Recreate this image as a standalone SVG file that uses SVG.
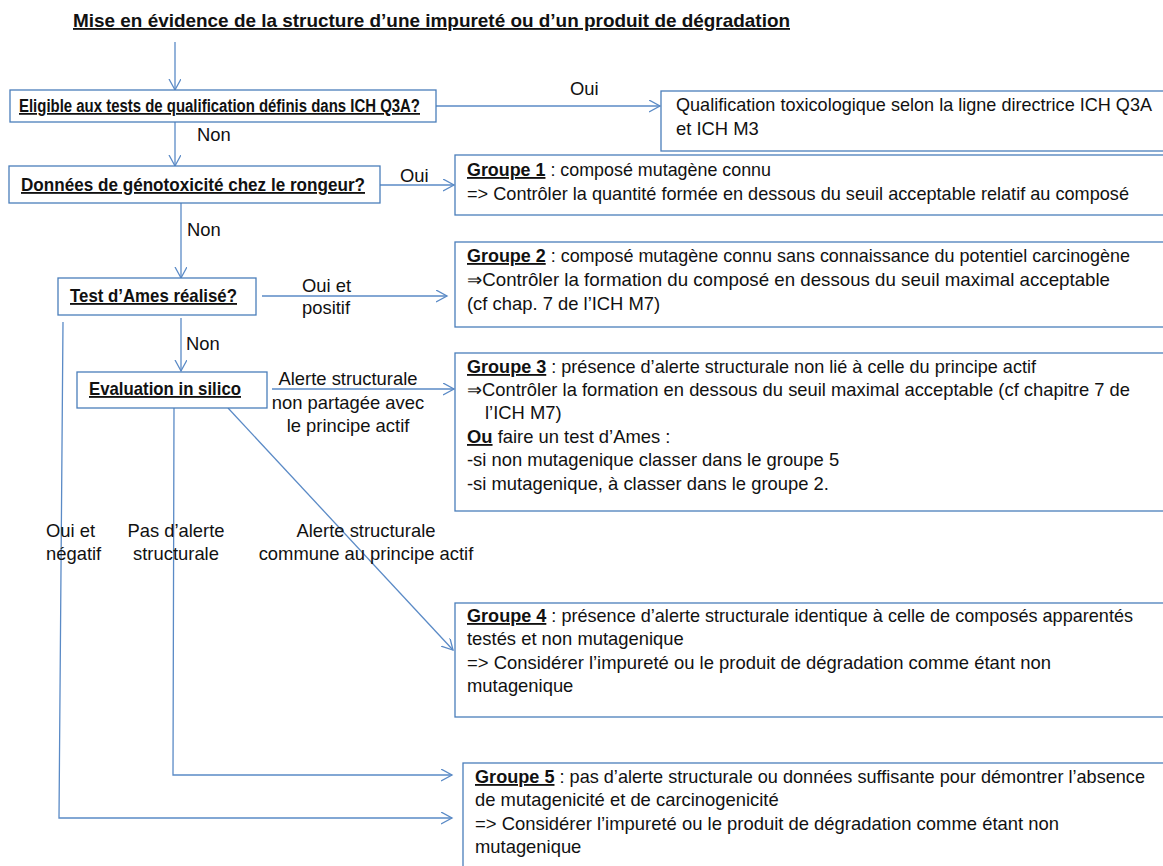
<svg xmlns="http://www.w3.org/2000/svg" width="1163" height="866" viewBox="0 0 1163 866">
<defs>
<style>
text{font-family:"Liberation Sans",Arial,sans-serif;font-size:18.4px;fill:#111}
.b{font-weight:bold}
.u{text-decoration:underline}
.box{fill:#fff;stroke:#4A7EBB;stroke-width:1.3}
.ln{fill:none;stroke:#5A8AC6;stroke-width:1.3}
</style>
<marker id="ah" markerUnits="userSpaceOnUse" markerWidth="14" markerHeight="14" refX="11" refY="6" orient="auto">
<path d="M0,0 L11,6 L0,12" fill="none" stroke="#5A8AC6" stroke-width="1.3"/>
</marker>
</defs>
<rect width="1163" height="866" fill="#fff"/>

<g id="title">
<text x="73" y="27" class="b u" textLength="717" lengthAdjust="spacingAndGlyphs">Mise en évidence de la structure d’une impureté ou d’un produit de dégradation</text>
</g>

<g id="connectors">
<line class="ln" x1="175" y1="42" x2="175" y2="90" marker-end="url(#ah)"/>
<line class="ln" x1="436" y1="106" x2="660" y2="106" marker-end="url(#ah)"/>
<line class="ln" x1="175" y1="122" x2="175" y2="166" marker-end="url(#ah)"/>
<line class="ln" x1="380" y1="185" x2="454" y2="185" marker-end="url(#ah)"/>
<line class="ln" x1="181" y1="203" x2="181" y2="278" marker-end="url(#ah)"/>
<line class="ln" x1="262" y1="296" x2="447" y2="296" marker-end="url(#ah)"/>
<line class="ln" x1="181" y1="318" x2="181" y2="371" marker-end="url(#ah)"/>
<line class="ln" x1="272" y1="389" x2="454" y2="389" marker-end="url(#ah)"/>
<line class="ln" x1="228" y1="408" x2="453" y2="650" marker-end="url(#ah)"/>
<polyline class="ln" points="174,408 173,775 452,775" marker-end="url(#ah)"/>
<polyline class="ln" points="63,322 59,818 452,818" marker-end="url(#ah)"/>
<text x="570" y="95">Oui</text>
<text x="197" y="141">Non</text>
<text x="400" y="182">Oui</text>
<text x="187" y="236">Non</text>
<text x="302" y="292">Oui et</text>
<text x="302" y="314">positif</text>
<text x="186" y="350">Non</text>
<text x="348" y="385" text-anchor="middle">Alerte structurale</text>
<text x="348" y="409" text-anchor="middle">non partagée avec</text>
<text x="348" y="432" text-anchor="middle">le principe actif</text>
<text x="46" y="537">Oui et</text>
<text x="46" y="560">négatif</text>
<text x="176" y="537" text-anchor="middle">Pas d’alerte</text>
<text x="176" y="560" text-anchor="middle">structurale</text>
<text x="366" y="537" text-anchor="middle">Alerte structurale</text>
<text x="366" y="560" text-anchor="middle">commune au principe actif</text>
</g>

<g id="n-eligible">
<rect class="box" x="10" y="90" width="426" height="32"/>
<text x="19" y="112" class="b u" style="font-size:17.6px" textLength="401" lengthAdjust="spacingAndGlyphs">Eligible aux tests de qualification  définis dans  ICH Q3A?</text>
</g>

<g id="n-qualif">
<rect class="box" x="661" y="91" width="520" height="60"/>
<text x="676" y="111" textLength="476" lengthAdjust="spacingAndGlyphs">Qualification toxicologique selon la ligne directrice ICH Q3A</text>
<text x="676" y="135">et ICH M3</text>
</g>

<g id="n-donnees">
<rect class="box" x="9" y="166" width="371" height="37"/>
<text x="21" y="191" class="b u" textLength="344" lengthAdjust="spacingAndGlyphs">Données de génotoxicité chez le rongeur?</text>
</g>

<g id="n-groupe1">
<rect class="box" x="455" y="155" width="726" height="60"/>
<text x="467" y="176" textLength="304" lengthAdjust="spacingAndGlyphs"><tspan class="b u">Groupe 1</tspan> : composé mutagène connu</text>
<text x="467" y="200" textLength="662" lengthAdjust="spacingAndGlyphs">=&gt; Contrôler la quantité formée en dessous du seuil acceptable relatif au composé</text>
</g>

<g id="n-ames">
<rect class="box" x="58" y="278" width="198" height="37"/>
<text x="70" y="302" class="b u" textLength="167" lengthAdjust="spacingAndGlyphs">Test d’Ames réalisé?</text>
</g>

<g id="n-groupe2">
<rect class="box" x="455" y="242" width="726" height="85"/>
<text x="467" y="262" textLength="663" lengthAdjust="spacingAndGlyphs"><tspan class="b u">Groupe 2</tspan> : composé mutagène connu sans connaissance du potentiel carcinogène</text>
<text x="467" y="286" textLength="643" lengthAdjust="spacingAndGlyphs">⇒Contrôler la formation du composé en dessous du seuil maximal acceptable</text>
<text x="467" y="310">(cf chap. 7 de l’ICH M7)</text>
</g>

<g id="n-eval">
<rect class="box" x="77" y="372" width="190" height="36"/>
<text x="89" y="395" class="b u" textLength="152" lengthAdjust="spacingAndGlyphs">Evaluation in silico</text>
</g>

<g id="n-groupe3">
<rect class="box" x="455" y="353" width="726" height="158"/>
<text x="467" y="373" textLength="569" lengthAdjust="spacingAndGlyphs"><tspan class="b u">Groupe 3</tspan> : présence d’alerte structurale non lié à celle du principe actif</text>
<text x="467" y="396" textLength="663" lengthAdjust="spacingAndGlyphs">⇒Contrôler la formation en dessous du seuil maximal acceptable (cf chapitre 7 de</text>
<text x="485" y="419">l’ICH M7)</text>
<text x="467" y="443"><tspan class="b u">Ou</tspan> faire un test d’Ames :</text>
<text x="467" y="466">-si non mutagenique classer dans le groupe 5</text>
<text x="467" y="490">-si mutagenique, à classer dans le groupe 2.</text>
</g>

<g id="n-groupe4">
<rect class="box" x="455" y="603" width="726" height="114"/>
<text x="467" y="622" textLength="666" lengthAdjust="spacingAndGlyphs"><tspan class="b u">Groupe 4</tspan> : présence d’alerte structurale identique à celle de composés apparentés</text>
<text x="467" y="645">testés et non mutagenique</text>
<text x="467" y="669" textLength="584" lengthAdjust="spacingAndGlyphs">=&gt; Considérer l’impureté ou le produit de dégradation comme étant non</text>
<text x="467" y="692">mutagenique</text>
</g>

<g id="n-groupe5">
<rect class="box" x="463" y="763" width="718" height="120"/>
<text x="475" y="783" textLength="670" lengthAdjust="spacingAndGlyphs"><tspan class="b u">Groupe 5</tspan> : pas d’alerte structurale ou données suffisante pour démontrer  l’absence</text>
<text x="475" y="806">de mutagenicité et de carcinogenicité</text>
<text x="475" y="830" textLength="584" lengthAdjust="spacingAndGlyphs">=&gt; Considérer l’impureté ou le produit de dégradation comme étant non</text>
<text x="475" y="853">mutagenique</text>
</g>
</svg>
